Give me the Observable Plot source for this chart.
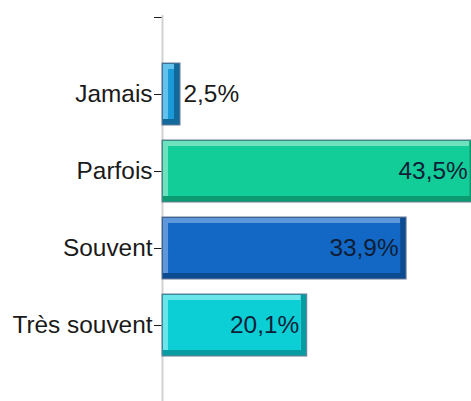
<!DOCTYPE html>
<html>
<head>
<meta charset="utf-8">
<script src="https://cdn.jsdelivr.net/npm/d3@7"></script>
<script src="https://cdn.jsdelivr.net/npm/@observablehq/plot@0.6"></script>
<style>
  html, body { margin: 0; padding: 0; background: #fff; }
  #chart svg { font-family: "Liberation Sans", Arial, sans-serif; }
</style>
</head>
<body>
<div id="chart"></div>
<script>
// Data
const categories = ["Jamais", "Parfois", "Souvent", "Très souvent"];
const values = [2.5, 43.5, 33.9, 20.1];
const faceColors = ["#1a9ad8", "#12cd97", "#1268c4", "#0ccfd6"];
const lightColors = ["#62c2ec", "#6ce2bf", "#5f98da", "#6ae5ea"];
const darkColors = ["#11699c", "#0c9a70", "#0a4b92", "#079ca2"];
const yDomain = ["", ...categories];

const data = categories.map((c, i) => ({
  cat: c,
  value: values[i],
  face: faceColors[i],
  light: lightColors[i],
  dark: darkColors[i],
  label: values[i].toFixed(1).replace(".", ",") + "%"
}));

const B = 6; // bevel width
const outline = "#6c7c98";
const FS = 24.4;

const chart = Plot.plot({
  width: 471,
  height: 401,
  marginLeft: 162,
  marginRight: 0,
  marginTop: 15,
  marginBottom: 0,
  style: {fontFamily: "Liberation Sans, Arial, sans-serif", fontSize: FS + "px", color: "#1a1a1a", background: "#fff", overflow: "hidden"},
  color: {type: "identity"},
  x: {domain: [0, 43.5], range: [162, 162 + 43.5 * 7.2], axis: null},
  y: {domain: yDomain, range: [-30.9, 373.9], padding: 0.19, tickSize: 8, tickPadding: 2, label: null},
  marks: [
    Plot.ruleX([0], {stroke: "#d2d2d2", strokeWidth: 2}),
    Plot.barX(data, {x: "value", y: "cat", fill: "dark", stroke: outline, strokeWidth: 1}),
    Plot.barX(data, {x: "value", y: "cat", fill: "light", insetLeft: 1, insetTop: 1, insetRight: B, insetBottom: B}),
    Plot.barX(data, {x: "value", y: "cat", fill: "face", insetLeft: B, insetTop: B, insetRight: B, insetBottom: B}),
    Plot.text(data.filter(d => d.value >= 10), {x: "value", y: "cat", text: "label", textAnchor: "end", dx: -8, fill: "#0f1e36", fontSize: FS}),
    Plot.text(data.filter(d => d.value < 10), {x: "value", y: "cat", text: "label", textAnchor: "start", dx: 3, fill: "#1a1a1a", fontSize: FS})
  ]
});
document.getElementById("chart").appendChild(chart);
</script>
</body>
</html>
